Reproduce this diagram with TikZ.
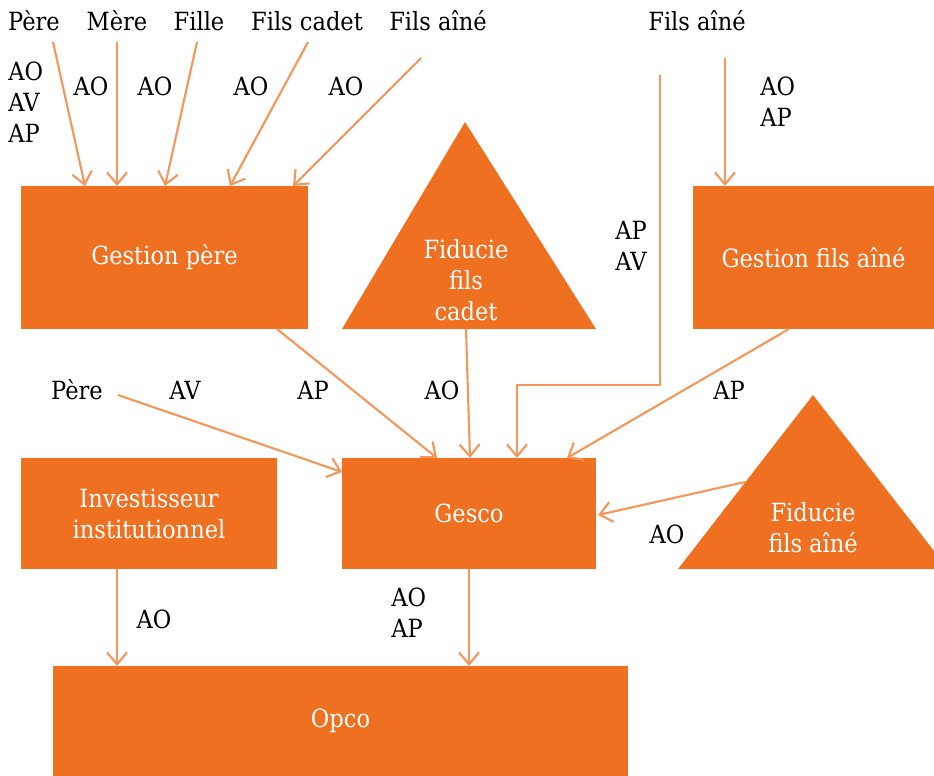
\documentclass[tikz,border=0pt]{standalone}
\usepackage{fontspec}
\setmainfont{DejaVu Serif Condensed}
\usetikzlibrary{arrows.meta}
\definecolor{boxor}{HTML}{F07022}
\definecolor{arror}{HTML}{F4975B}
\begin{document}
\begin{tikzpicture}[x=0.75pt,y=-0.75pt,
  every node/.style={font=\fontsize{18.8}{23.25}\selectfont, inner sep=0pt},
  box/.style={fill=boxor, draw=none, text=white, align=center},
  tri/.style={fill=boxor, draw=none},
  intext/.style={text=white, align=center},
  lbl/.style={text=black, align=left},
  arr/.style={draw=arror, line width=1.6pt, -{Straight Barb[length=9pt,width=15pt,line width=1.6pt]}}
]
\useasboundingbox (0,0) rectangle (934,775);
% boxes
\node[box, minimum width=287*0.75pt, minimum height=143*0.75pt] (gp) at (164.5,257.5) {Gestion père};
\node[box, minimum width=241*0.75pt, minimum height=143*0.75pt] (gfa) at (813.5,257.5) {Gestion fils aîné};
\node[box, minimum width=256*0.75pt, minimum height=111*0.75pt] (inv) at (149,513.5) {Investisseur\\institutionnel};
\node[box, minimum width=254*0.75pt, minimum height=111*0.75pt] (gesco) at (469,513.5) {Gesco};
\node[box, minimum width=575*0.75pt, minimum height=110*0.75pt] (opco) at (340.5,721) {Opco};
% triangles
\fill[tri] (465,122) -- (596,329) -- (342,329) -- cycle;
\node[intext] (fc) at (466,280) {Fiducie\\fils\\cadet};
\fill[tri] (813,395) -- (948,569) -- (678,569) -- cycle;
\node[intext] (fa) at (813,528) {Fiducie\\fils aîné};
% top labels
\node[lbl] (pere) at (34,21) {Père};
\node[lbl] (mere) at (117,21) {Mère};
\node[lbl] (fille) at (199,21) {Fille};
\node[lbl] (fcad) at (307,21) {Fils cadet};
\node[lbl] (fain) at (438,21) {Fils aîné};
\node[lbl] (fain2) at (697,21) {Fils aîné};
\node[lbl, anchor=west] (l1) at (8,102) {AO\\AV\\AP};
\node[lbl] (l2) at (91,86) {AO};
\node[lbl] (l3) at (155,86) {AO};
\node[lbl] (l4) at (251,86) {AO};
\node[lbl] (l5) at (346,86) {AO};
\node[lbl, anchor=west] (l6) at (760,102) {AO\\AP};
\node[lbl, anchor=west] (l7) at (615,246) {AP\\AV};
\node[lbl] (pere2) at (77,390) {Père};
\node[lbl] (l8) at (185,390) {AV};
\node[lbl] (l9) at (313,390) {AP};
\node[lbl] (l10) at (442,390) {AO};
\node[lbl] (l11) at (729,390) {AP};
\node[lbl] (l12) at (667,534) {AO};
\node[lbl] (l13) at (154,619) {AO};
\node[lbl, anchor=west] (l14) at (391,613) {AO\\AP};
% coordinates
\coordinate (s1) at (53,42);
\coordinate (s2) at (117,42);
\coordinate (s3) at (197,42);
\coordinate (s4) at (308,42);
\coordinate (s5) at (421,58);
\coordinate (s6) at (660,75);
\coordinate (s7) at (725,58);
\coordinate (s8) at (118,395);
% arrows
\draw[arr] (s1) -- (85,186);
\draw[arr] (s2) -- (117,186);
\draw[arr] (s3) -- (165,186);
\draw[arr] (s4) -- (230,186);
\draw[arr] (s5) -- (293,186);
\draw[arr] (s6) -- (660,385) -- (517,385) -- (517,458);
\draw[arr] (s7) -- (725,186);
\draw[arr] (277,329) -- (437,458);
\draw[arr] (466,329) -- (470,458);
\draw[arr] (789,329) -- (567,458);
\draw[arr] (s8) -- (342,472);
\draw[arr] (745,482) -- (598,515);
\draw[arr] (117,569) -- (117,666);
\draw[arr] (469,569) -- (469,666);
\end{tikzpicture}
\end{document}
